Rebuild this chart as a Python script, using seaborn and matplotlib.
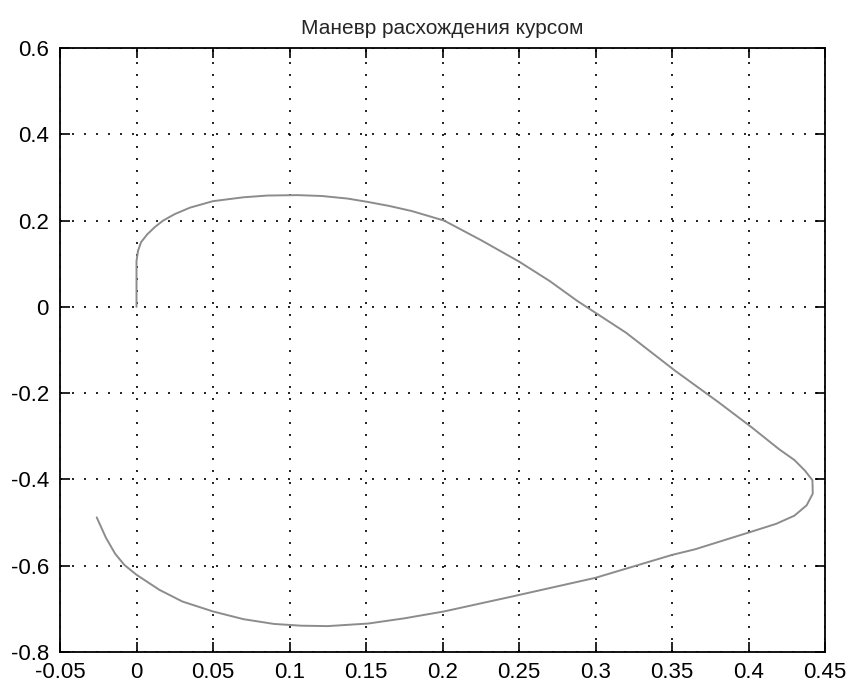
import pandas as pd
import matplotlib
matplotlib.use("Agg")
import matplotlib.pyplot as plt
import seaborn as sns

# trajectory points
x_vals = [0.0, 0.0, 0.0, 0.001, 0.003, 0.007, 0.012, 0.0174, 0.025, 0.035, 0.05, 0.07,
          0.0855, 0.105, 0.121, 0.138, 0.1515, 0.165, 0.18, 0.201, 0.225, 0.25, 0.27,
          0.288, 0.32, 0.352, 0.38, 0.402, 0.42, 0.43, 0.437, 0.4418, 0.442, 0.438,
          0.43, 0.418, 0.402, 0.365, 0.35, 0.3, 0.246, 0.201, 0.175, 0.1515, 0.125,
          0.1075, 0.09, 0.07, 0.05, 0.03, 0.015, 0.0, -0.008, -0.014, -0.02, -0.026]
y_vals = [0.0, 0.05, 0.106, 0.13, 0.15, 0.168, 0.185, 0.2, 0.215, 0.23, 0.245, 0.254,
          0.258, 0.259, 0.257, 0.251, 0.243, 0.234, 0.222, 0.2, 0.155, 0.105, 0.06,
          0.014, -0.06, -0.148, -0.22, -0.279, -0.33, -0.355, -0.38, -0.402, -0.433, -0.46,
          -0.484, -0.503, -0.521, -0.562, -0.575, -0.628, -0.671, -0.706, -0.722, -0.734, -0.74,
          -0.739, -0.735, -0.724, -0.706, -0.683, -0.656, -0.621, -0.598, -0.572, -0.535, -0.488]

x_ticks = [-0.05, 0, 0.05, 0.1, 0.15, 0.2, 0.25, 0.3, 0.35, 0.4, 0.45]
x_labels = ["-0.05", "0", "0.05", "0.1", "0.15", "0.2", "0.25", "0.3", "0.35", "0.4", "0.45"]
y_ticks = [-0.8, -0.6, -0.4, -0.2, 0, 0.2, 0.4, 0.6]
y_labels = ["-0.8", "-0.6", "-0.4", "-0.2", "0", "0.2", "0.4", "0.6"]

df = pd.DataFrame({"x": x_vals, "y": y_vals})

sns.set_style("white")
plt.rcParams["font.family"] = ["Liberation Sans", "DejaVu Sans"]

fig = plt.figure(figsize=(8.49, 6.87), dpi=100)
ax = fig.add_axes([60 / 849, 1 - 652 / 687, 765 / 849, 604 / 687])

sns.lineplot(data=df, x="x", y="y", sort=False, estimator=None, ax=ax,
             color="#8c8c8c", linewidth=1.4)

ax.set_xlim(-0.05, 0.45)
ax.set_ylim(-0.8, 0.6)
ax.set_xticks(x_ticks)
ax.set_xticklabels(x_labels)
ax.set_yticks(y_ticks)
ax.set_yticklabels(y_labels)
ax.set_xlabel("")
ax.set_ylabel("")

ax.grid(True, color="black", linestyle=(0, (1.2, 6)), linewidth=1.2)
ax.tick_params(direction="in", length=7, width=1.2, labelsize=16, colors="black",
               top=True, right=True, bottom=True, left=True)
ax.tick_params(axis="x", pad=7)
ax.tick_params(axis="y", pad=8)
for s in ax.spines.values():
    s.set_visible(True)
    s.set_color("black")
    s.set_linewidth(1.3)

ax.set_title("Маневр расхождения курсом", fontsize=15, pad=10)

fig.savefig("out.png", dpi=100, facecolor="white")
